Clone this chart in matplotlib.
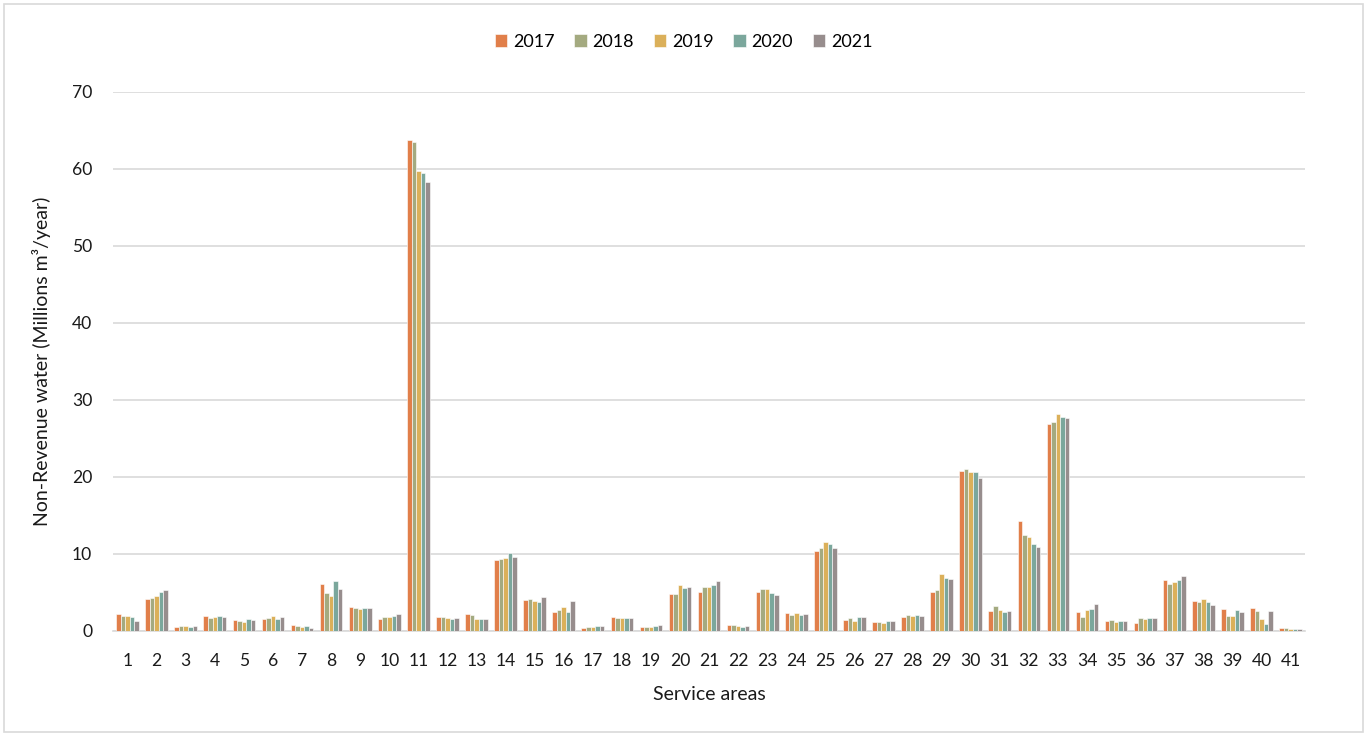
import matplotlib.pyplot as plt
import numpy as np
from matplotlib.patches import Rectangle

plt.rcParams['font.family'] = ['Lato', 'DejaVu Sans']

areas = [str(i) for i in range(1, 42)]
years = ["2017", "2018", "2019", "2020", "2021"]
colors = ["#E17F4A", "#A4AA80", "#DBB05A", "#7BA79C", "#978D8D"]

nrw_2017 = [2.25, 4.2, 0.5, 1.9, 1.45, 1.5, 0.8, 6.1, 3.15, 1.6,
            63.8, 1.85, 2.25, 9.25, 4.05, 2.5, 0.4, 1.85, 0.5, 4.75,
            5.1, 0.75, 5.1, 2.35, 10.45, 1.45, 1.2, 1.85, 5.05, 20.8,
            2.6, 14.3, 26.85, 2.4, 1.25, 1.1, 6.65, 3.9, 2.9, 3.0, 0.4]
nrw_2018 = [1.9, 4.3, 0.6, 1.7, 1.35, 1.7, 0.65, 4.9, 3.0, 1.85,
            63.45, 1.8, 2.05, 9.4, 4.1, 2.7, 0.5, 1.65, 0.5, 4.8,
            5.65, 0.8, 5.5, 2.1, 10.8, 1.65, 1.15, 2.05, 5.3, 21.0,
            3.3, 12.5, 27.15, 1.85, 1.4, 1.7, 6.05, 3.7, 1.9, 2.6, 0.35]
nrw_2019 = [1.9, 4.6, 0.6, 1.8, 1.2, 1.9, 0.55, 4.6, 2.9, 1.85,
            59.8, 1.65, 1.6, 9.5, 3.95, 3.15, 0.55, 1.65, 0.5, 6.0,
            5.65, 0.65, 5.5, 2.35, 11.6, 1.25, 1.1, 1.9, 7.4, 20.7,
            2.75, 12.25, 28.2, 2.75, 1.2, 1.6, 6.4, 4.1, 2.0, 1.6, 0.3]
nrw_2020 = [1.8, 5.0, 0.5, 1.9, 1.5, 1.6, 0.6, 6.45, 3.0, 2.0,
            59.5, 1.6, 1.5, 10.1, 3.8, 2.5, 0.6, 1.65, 0.6, 5.6,
            6.0, 0.5, 4.95, 2.05, 11.3, 1.75, 1.25, 2.05, 6.9, 20.7,
            2.45, 11.25, 27.8, 2.9, 1.3, 1.65, 6.6, 3.75, 2.75, 0.9, 0.3]
nrw_2021 = [1.3, 5.3, 0.6, 1.8, 1.45, 1.75, 0.4, 5.4, 2.95, 2.25,
            58.35, 1.7, 1.55, 9.6, 4.45, 3.9, 0.65, 1.65, 0.75, 5.7,
            6.5, 0.6, 4.65, 2.15, 10.8, 1.85, 1.3, 2.0, 6.7, 19.9,
            2.6, 10.9, 27.7, 3.45, 1.3, 1.65, 7.1, 3.4, 2.5, 2.6, 0.3]
series = [nrw_2017, nrw_2018, nrw_2019, nrw_2020, nrw_2021]

fig = plt.figure(figsize=(13.67, 7.36), dpi=100)
ax = fig.add_axes([0.0827, 0.1427, 0.872, 0.7323])

x = np.arange(len(areas))
w = 0.156
for i, (yr, vals) in enumerate(zip(years, series)):
    ax.bar(x + (i - 2) * w, vals, width=w, color=colors[i], label=yr,
           edgecolor="white", linewidth=0.4, zorder=3)

ax.set_xlim(-0.5, len(areas) - 0.5)
ax.set_ylim(0, 70)
ax.set_yticks(np.arange(0, 71, 10))
ax.set_xticks(x)
ax.set_xticklabels(areas)
ax.grid(axis="y", color="#D9D9D9", linewidth=1.2, zorder=0)
for s in ["top", "right", "left"]:
    ax.spines[s].set_visible(False)
ax.spines["bottom"].set_color("#D9D9D9")
ax.spines["bottom"].set_linewidth(1.2)
ax.tick_params(axis="both", length=0, labelsize=12.6, colors="#1a1a1a")
ax.tick_params(axis="x", pad=16)
ax.tick_params(axis="y", pad=15)

ax.set_xlabel("Service areas", fontsize=14, color="#1a1a1a", labelpad=12)
ax.set_ylabel("Non-Revenue water (Millions m\u00b3/year)", fontsize=14,
              color="#1a1a1a", labelpad=15)

fig.legend(loc="center", bbox_to_anchor=(0.5, 0.943), ncol=5, frameon=False,
           fontsize=13, handlelength=0.7, handleheight=0.7,
           handletextpad=0.3, columnspacing=1.1)

fig.patches.append(Rectangle((0.003, 0.005), 0.994, 0.99, transform=fig.transFigure,
                             fill=False, edgecolor="#D9D9D9", linewidth=1.2))

fig.savefig("out.png", dpi=100)
